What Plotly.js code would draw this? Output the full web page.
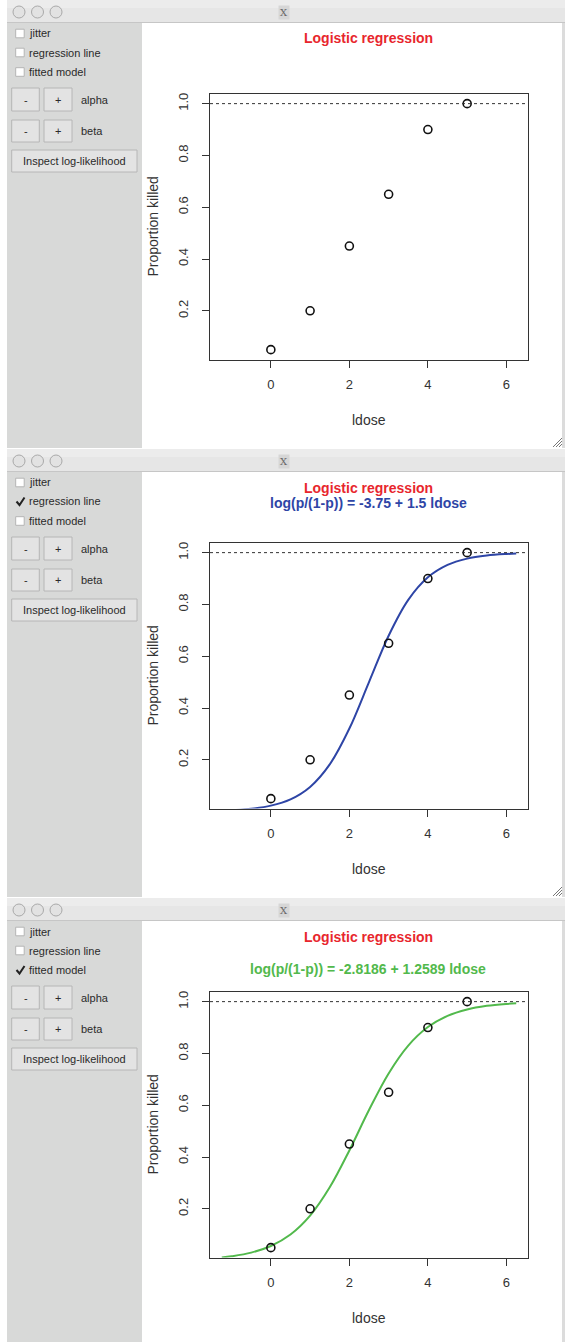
<!DOCTYPE html>
<html><head><meta charset="utf-8">
<script src="https://cdn.plot.ly/plotly-3.0.1.min.js"></script>
<style>html,body{margin:0;padding:0;background:#fff;overflow:hidden;} #chart{width:565px;height:1342px;}</style>
</head><body><div id="chart"></div>
<script>
// ---- data ----
const ldose = [0, 1, 2, 3, 4, 5];
const propKilled = [0.05, 0.2, 0.45, 0.65, 0.9, 1.0];
const curveDose = [-1.25, -1, -0.5, 0, 0.5, 1, 1.5, 2, 2.5, 3, 3.5, 4, 4.5, 5, 5.5, 6, 6.25];
const regressionLineP = [0.0036, 0.0052, 0.0110, 0.0230, 0.0474, 0.0954, 0.1824, 0.3208, 0.5, 0.6792, 0.8176, 0.9047, 0.9526, 0.9770, 0.9890, 0.9948, 0.9964];
const fittedModelP = [0.0122, 0.0167, 0.0308, 0.0563, 0.1007, 0.1737, 0.2829, 0.4254, 0.5814, 0.7228, 0.8303, 0.9018, 0.9451, 0.9700, 0.9838, 0.9913, 0.9936];
const xTickVals = [0, 2, 4, 6];
const xTickText = ['0', '2', '4', '6'];
const yTickVals = [0.2, 0.4, 0.6, 0.8, 1.0];
const yTickText = ['0.2', '0.4', '0.6', '0.8', '1.0'];
const referenceLevel = 1.0;
const xRange = [-1.55, 6.55];
const yRange = [0.012, 1.038];
const panelTitle = 'Logistic regression';
const subtitles = ['', 'log(p/(1-p)) = -3.75 + 1.5 ldose', 'log(p/(1-p)) = -2.8186 + 1.2589 ldose'];
const xTitle = 'ldose';
const yTitle = 'Proportion killed';
const checkboxLabels = ['jitter', 'regression line', 'fitted model'];
const checkedStates = [[false, false, false], [false, true, false], [false, false, true]];
const paramLabels = ['alpha', 'beta'];
const inspectLabel = 'Inspect log-likelihood';

// ---- layout helpers ----
const W = 565, H = 1342;
const fx = v => v / W;
const fy = v => 1 - v / H;
const FONT = 'Liberation Sans, Arial, Helvetica, sans-serif';
const offsets = [0, 449, 898];
const RED = '#e8262d', BLUE = '#2e45a6', GREEN = '#52b94c';

const traces = [];
const shapes = [];
const annotations = [];
const layout = {
  width: W, height: H,
  margin: {l: 0, r: 0, t: 0, b: 0, pad: 0},
  paper_bgcolor: '#ffffff', plot_bgcolor: 'rgba(0,0,0,0)',
  showlegend: false,
  font: {family: FONT, color: '#333'}
};

function rect(x0, y0, x1, y1, fill, line, lw) {
  shapes.push({type: 'rect', xref: 'paper', yref: 'paper', x0: fx(x0), x1: fx(x1), y0: fy(y1), y1: fy(y0),
    fillcolor: fill, line: {color: line || fill, width: lw === undefined ? 0 : lw}, layer: 'below'});
}
function seg(x0, y0, x1, y1, color, w) {
  shapes.push({type: 'line', xref: 'paper', yref: 'paper', x0: fx(x0), x1: fx(x1), y0: fy(y0), y1: fy(y1),
    line: {color: color, width: w}, layer: 'above'});
}
function label(text, x, y, opts) {
  annotations.push(Object.assign({text: text, xref: 'paper', yref: 'paper', x: fx(x), y: fy(y),
    showarrow: false, xanchor: 'left', yanchor: 'middle',
    font: {family: FONT, size: 11, color: '#2a2a2a'}}, opts || {}));
}

for (let k = 0; k < 3; k++) {
  const o = offsets[k];
  const sfx = k === 0 ? '' : String(k + 1);
  const bottom = k < 2 ? offsets[k + 1] - 1 : H;

  // window chrome
  rect(7, o, 565, o + 22, '#e6e6e6');
  rect(7, o, 565, o + 8, '#ececec');
  seg(7, o + 22.5, 565, o + 22.5, '#c6c6c6', 1);
  rect(7, o + 23, 142, bottom, '#d8d9d8');
  rect(562, o + 23, 565, bottom, '#dcdcdc');
  [19, 37.5, 56].forEach(cx => {
    shapes.push({type: 'circle', xref: 'paper', yref: 'paper', x0: fx(cx - 6), x1: fx(cx + 6), y0: fy(o + 18), y1: fy(o + 6),
      fillcolor: '#e2e2e2', line: {color: '#a9a9a9', width: 1}, layer: 'above'});
  });
  label('X', 284, o + 12.5, {xanchor: 'center', font: {family: 'DejaVu Serif, serif', size: 10, color: '#666'},
    bgcolor: '#d6d6d6', borderpad: 1});
  if (k < 2) {
    seg(553, o + 447, 562, o + 438, '#777', 1);
    seg(556, o + 447, 562, o + 441, '#777', 1);
    seg(559, o + 447, 562, o + 444, '#777', 1);
  }

  // check boxes
  const cyList = [33.5, 52.5, 72];
  checkboxLabels.forEach((t, i) => {
    const cy = o + cyList[i];
    if (checkedStates[k][i]) {
      shapes.push({type: 'path', xref: 'paper', yref: 'paper',
        path: `M ${fx(16.5)} ${fy(cy)} L ${fx(19.5)} ${fy(cy + 3.5)} L ${fx(24.5)} ${fy(cy - 4)}`,
        line: {color: '#222', width: 2}, layer: 'above'});
    } else {
      rect(15.7, cy - 4.3, 24.2, cy + 4.3, '#ffffff', '#b4b4b4', 1);
    }
    label(t, 27, cy);
  });

  // buttons
  const rows = [[88, 111], [120, 142]];
  rows.forEach((r, i) => {
    rect(11.7, o + r[0], 39.3, o + r[1], '#e3e3e3', '#b6b6b6', 1);
    rect(44, o + r[0], 72, o + r[1], '#e3e3e3', '#b6b6b6', 1);
    label('-', 25.5, o + (r[0] + r[1]) / 2, {xanchor: 'center'});
    label('+', 58, o + (r[0] + r[1]) / 2, {xanchor: 'center'});
    label(paramLabels[i], 79, o + (r[0] + r[1]) / 2);
  });
  rect(11.7, o + 150, 137, o + 172, '#e3e3e3', '#b6b6b6', 1);
  label(inspectLabel, 74.3, o + 161, {xanchor: 'center'});

  // plot titles
  label('<b>' + panelTitle + '</b>', 369, o + 38.5, {xanchor: 'center', font: {family: FONT, size: 14, color: RED}});
  if (k === 1) label('<b>' + subtitles[1] + '</b>', 368, o + 54, {xanchor: 'center', font: {family: FONT, size: 14, color: BLUE}});
  if (k === 2) label('<b>' + subtitles[2] + '</b>', 368, o + 71, {xanchor: 'center', font: {family: FONT, size: 14, color: GREEN}});

  // axis titles
  label(xTitle, 369, o + 420, {xanchor: 'center', font: {family: FONT, size: 14, color: '#333'}});
  label(yTitle, 152, o + 226.5, {xanchor: 'center', textangle: -90, font: {family: FONT, size: 14, color: '#333'}});

  // axes
  const axCommon = {
    tickmode: 'array', ticks: 'outside', ticklen: 7, tickwidth: 1, tickcolor: '#333',
    showline: true, mirror: true, linecolor: '#333', linewidth: 1,
    showgrid: false, zeroline: false, fixedrange: true,
    tickfont: {family: FONT, size: 13, color: '#333'}
  };
  layout['xaxis' + sfx] = Object.assign({}, axCommon, {
    domain: [fx(210), fx(528)], range: xRange, anchor: 'y' + sfx,
    tickvals: xTickVals, ticktext: xTickText, ticklabelstandoff: 6
  });
  layout['yaxis' + sfx] = Object.assign({}, axCommon, {
    domain: [fy(o + 359.5), fy(o + 93.8)], range: yRange, anchor: 'x' + sfx,
    tickvals: yTickVals, ticktext: yTickText, tickangle: -90, ticklabelstandoff: 9
  });

  // dotted reference line at 1
  shapes.push({type: 'line', xref: 'x' + sfx + ' domain', yref: 'y' + sfx, x0: 0, x1: 1,
    y0: referenceLevel, y1: referenceLevel, line: {color: '#333', width: 1, dash: 'dot'}, layer: 'above'});

  // curves
  if (k === 1) {
    traces.push({type: 'scatter', mode: 'lines', x: curveDose, y: regressionLineP, xaxis: 'x' + sfx, yaxis: 'y' + sfx,
      line: {color: BLUE, width: 2, shape: 'spline', smoothing: 1}, hoverinfo: 'skip'});
  }
  if (k === 2) {
    traces.push({type: 'scatter', mode: 'lines', x: curveDose, y: fittedModelP, xaxis: 'x' + sfx, yaxis: 'y' + sfx,
      line: {color: GREEN, width: 2, shape: 'spline', smoothing: 1}, hoverinfo: 'skip'});
  }
  // points
  traces.push({type: 'scatter', mode: 'markers', x: ldose, y: propKilled, xaxis: 'x' + sfx, yaxis: 'y' + sfx,
    marker: {symbol: 'circle-open', size: 8, color: '#111', line: {width: 1.6, color: '#111'}}, cliponaxis: false});
}

layout.shapes = shapes;
layout.annotations = annotations;
Plotly.newPlot('chart', traces, layout, {displayModeBar: false, staticPlot: true});
</script>
</body></html>
